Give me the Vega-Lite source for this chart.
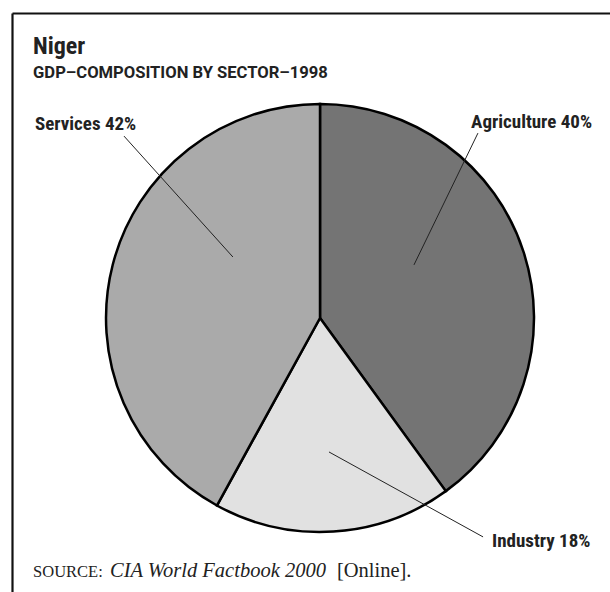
{
  "$schema": "https://vega.github.io/schema/vega-lite/v6.json",
  "width": 598,
  "height": 579,
  "autosize": "none",
  "padding": {"left": 12, "top": 13, "right": 0, "bottom": 0},
  "background": "white",
  "config": {"view": {"stroke": null}},
  "encoding": {
    "x": {"type": "quantitative", "scale": {"domain": [-1.4393, 1.3551], "nice": false, "zero": false},
      "axis": {"orient": "top", "domain": true, "domainColor": "#111", "domainWidth": 2.2, "ticks": false, "labels": false, "grid": false, "title": null}},
    "y": {"type": "quantitative", "scale": {"domain": [-1.2804, 1.4252], "nice": false, "zero": false},
      "axis": {"orient": "left", "domain": true, "domainColor": "#111", "domainWidth": 2.2, "ticks": false, "labels": false, "grid": false, "title": null}}
  },
  "layer": [
    {
      "data": {"values": [
        {"sector": "Agriculture", "share": 40},
        {"sector": "Industry", "share": 18},
        {"sector": "Services", "share": 42}
      ]},
      "mark": {"type": "arc", "outerRadius": 214, "stroke": "#000", "strokeWidth": 2.5},
      "encoding": {
        "x": {"datum": 0, "type": "quantitative"},
        "y": {"datum": 0, "type": "quantitative"},
        "theta": {"field": "share", "type": "quantitative", "stack": true},
        "color": {"field": "sector", "type": "nominal", "legend": null,
          "scale": {"domain": ["Agriculture", "Industry", "Services"], "range": ["#747474", "#e1e1e1", "#aaaaaa"]}}
      }
    },
    {
      "data": {"values": [
        {"sector": "Agriculture", "x": 0.738, "y": 0.864, "x2": 0.439, "y2": 0.248},
        {"sector": "Services", "x": -0.916, "y": 0.850, "x2": -0.407, "y2": 0.285},
        {"sector": "Industry", "x": 0.762, "y": -1.023, "x2": 0.042, "y2": -0.626}
      ]},
      "mark": {"type": "rule", "color": "#222", "strokeWidth": 1},
      "encoding": {
        "x": {"field": "x", "type": "quantitative"},
        "y": {"field": "y", "type": "quantitative"},
        "x2": {"field": "x2"},
        "y2": {"field": "y2"}
      }
    },
    {
      "data": {"values": [
        {"label": "Services 42%", "x": -1.332, "y": 0.879},
        {"label": "Agriculture 40%", "x": 0.706, "y": 0.888},
        {"label": "Industry 18%", "x": 0.804, "y": -1.070}
      ]},
      "mark": {"type": "text", "align": "left", "baseline": "alphabetic", "font": "Roboto Condensed, Liberation Sans Narrow, sans-serif", "fontWeight": "bold", "fontSize": 19, "color": "#222"},
      "encoding": {
        "x": {"field": "x", "type": "quantitative"},
        "y": {"field": "y", "type": "quantitative"},
        "text": {"field": "label"}
      }
    },
    {
      "data": {"values": [{"label": "Niger", "x": -1.341, "y": 1.234}]},
      "mark": {"type": "text", "align": "left", "baseline": "alphabetic", "font": "Roboto Condensed, Liberation Sans Narrow, sans-serif", "fontWeight": "bold", "fontSize": 24, "color": "#222"},
      "encoding": {
        "x": {"field": "x", "type": "quantitative"},
        "y": {"field": "y", "type": "quantitative"},
        "text": {"field": "label"}
      }
    },
    {
      "data": {"values": [{"label": "GDP–COMPOSITION BY SECTOR–1998", "x": -1.341, "y": 1.121}]},
      "mark": {"type": "text", "align": "left", "baseline": "alphabetic", "font": "Roboto, sans-serif", "fontWeight": "bold", "fontSize": 16.6, "color": "#222"},
      "encoding": {
        "x": {"field": "x", "type": "quantitative"},
        "y": {"field": "y", "type": "quantitative"},
        "text": {"field": "label"}
      }
    },
    {
      "data": {"values": [{"label": "SOURCE:", "x": -1.341, "y": -1.210}]},
      "mark": {"type": "text", "align": "left", "baseline": "alphabetic", "font": "Liberation Serif, serif", "fontSize": 16.5, "color": "#222"},
      "encoding": {
        "x": {"field": "x", "type": "quantitative"},
        "y": {"field": "y", "type": "quantitative"},
        "text": {"field": "label"}
      }
    },
    {
      "data": {"values": [{"label": "CIA World Factbook 2000", "x": -0.981, "y": -1.210}]},
      "mark": {"type": "text", "align": "left", "baseline": "alphabetic", "font": "Liberation Serif, serif", "fontStyle": "italic", "fontSize": 20.5, "color": "#222"},
      "encoding": {
        "x": {"field": "x", "type": "quantitative"},
        "y": {"field": "y", "type": "quantitative"},
        "text": {"field": "label"}
      }
    },
    {
      "data": {"values": [{"label": "[Online].", "x": 0.079, "y": -1.210}]},
      "mark": {"type": "text", "align": "left", "baseline": "alphabetic", "font": "Liberation Serif, serif", "fontSize": 20.5, "color": "#222"},
      "encoding": {
        "x": {"field": "x", "type": "quantitative"},
        "y": {"field": "y", "type": "quantitative"},
        "text": {"field": "label"}
      }
    }
  ]
}
